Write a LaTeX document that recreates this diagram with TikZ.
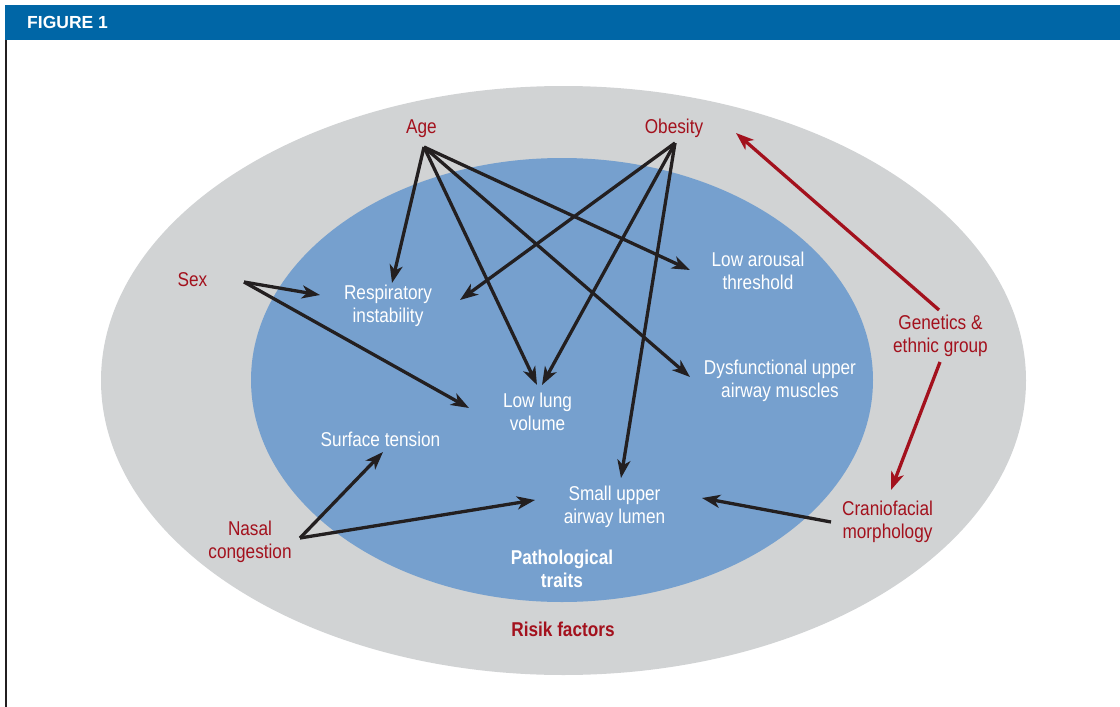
\documentclass[tikz,border=0pt]{standalone}
\usepackage{fontspec}
\setmainfont[FakeStretch=0.86]{Liberation Sans}
\newfontfamily\headfont{Liberation Sans}
\usetikzlibrary{arrows.meta}

\definecolor{headblue}{HTML}{0066A6}
\definecolor{riskgray}{HTML}{D1D3D4}
\definecolor{traitblue}{HTML}{76A0CE}
\definecolor{riskred}{HTML}{A3111D}
\definecolor{inkblack}{HTML}{231F20}

\tikzset{
  lbl/.style={inner sep=0pt, align=center, font=\fontsize{20}{23}\selectfont},
  factor/.style={lbl, text=riskred},
  trait/.style={lbl, text=white},
  link/.style={line width=3.3pt, draw=inkblack,
    -{Stealth[length=18pt,width=13pt,inset=5pt]}},
  redlink/.style={link, draw=riskred},
}

\begin{document}
\begin{tikzpicture}[x=1pt, y=-1pt]
  \useasboundingbox (0,0) rectangle (1120,707);

  % header band and frame
  \fill[headblue] (5,5) rectangle (1120,40);
  \node[anchor=west, inner sep=0pt, text=white,
        font=\headfont\bfseries\fontsize{17.5}{20}\selectfont] (title) at (27,22.5) {FIGURE 1};
  \fill[inkblack] (5,40) rectangle (7,707);

  % risk factors (outer) and pathological traits (inner)
  \fill[riskgray] (563.5,380.5) ellipse [x radius=462.5, y radius=294.5];
  \fill[traitblue] (562,380) ellipse [x radius=311, y radius=222];

  % risk factors
  \node[factor] (age)      at (421.5,129)   {Age};
  \node[factor] (obesity)  at (674,128)     {Obesity};
  \node[factor] (sex)      at (192.5,279.5) {Sex};
  \node[factor] (genetics) at (940.5,336)   {Genetics \&\\ethnic group};
  \node[factor] (cranio)   at (887.5,521.5) {Craniofacial\\morphology};
  \node[factor] (nasal)    at (250,542)     {Nasal\\congestion};
  \node[factor, font=\bfseries\fontsize{20}{23}\selectfont] (risk) at (563,629.5) {Risik factors};

  % pathological traits
  \node[trait] (resp)    at (388,306)     {Respiratory\\instability};
  \node[trait] (arousal) at (758,270.5)   {Low arousal\\threshold};
  \node[trait] (dysf)    at (780,380.5)   {Dysfunctional upper\\airway muscles};
  \node[trait] (lung)    at (537.5,411.5) {Low lung\\volume};
  \node[trait] (surf)    at (380.5,439.5) {Surface tension};
  \node[trait] (lumen)   at (614.5,506.5) {Small upper\\airway lumen};
  \node[trait, font=\bfseries\fontsize{20}{23}\selectfont] (patho) at (562,568.5) {Pathological\\traits};

  % arrow sources
  \coordinate (age-o)      at (424,147);
  \coordinate (obesity-o)  at (675,143);
  \coordinate (sex-o)      at (244,282);
  \coordinate (nasal-o)    at (300,538);
  \coordinate (cranio-o)   at (831,522);
  \coordinate (genetics-t) at (939,310);
  \coordinate (genetics-b) at (940,362);

  % arrow targets
  \coordinate (resp-t)    at (392,283);
  \coordinate (resp-r)    at (460,300);
  \coordinate (resp-l)    at (320,295);
  \coordinate (lung-l)    at (537,385);
  \coordinate (lung-r)    at (542,385);
  \coordinate (lung-w)    at (469,408);
  \coordinate (arousal-w) at (690,270);
  \coordinate (dysf-w)    at (690,377);
  \coordinate (lumen-t)   at (621,478);
  \coordinate (lumen-w)   at (535,500);
  \coordinate (lumen-e)   at (702,498);
  \coordinate (surf-s)    at (383,452);
  \coordinate (obesity-e) at (736,133);
  \coordinate (cranio-n)  at (891,490);

  % age
  \draw[link] (age-o) -- (resp-t);
  \draw[link] (age-o) -- (lung-l);
  \draw[link] (age-o) -- (arousal-w);
  \draw[link] (age-o) -- (dysf-w);
  % obesity
  \draw[link] (obesity-o) -- (resp-r);
  \draw[link] (obesity-o) -- (lung-r);
  \draw[link] (obesity-o) -- (lumen-t);
  % sex
  \draw[link] (sex-o) -- (resp-l);
  \draw[link] (sex-o) -- (lung-w);
  % nasal congestion
  \draw[link] (nasal-o) -- (surf-s);
  \draw[link] (nasal-o) -- (lumen-w);
  % craniofacial morphology
  \draw[link] (cranio-o) -- (lumen-e);
  % genetics & ethnic group
  \draw[redlink] (genetics-t) -- (obesity-e);
  \draw[redlink] (genetics-b) -- (cranio-n);
\end{tikzpicture}
\end{document}
